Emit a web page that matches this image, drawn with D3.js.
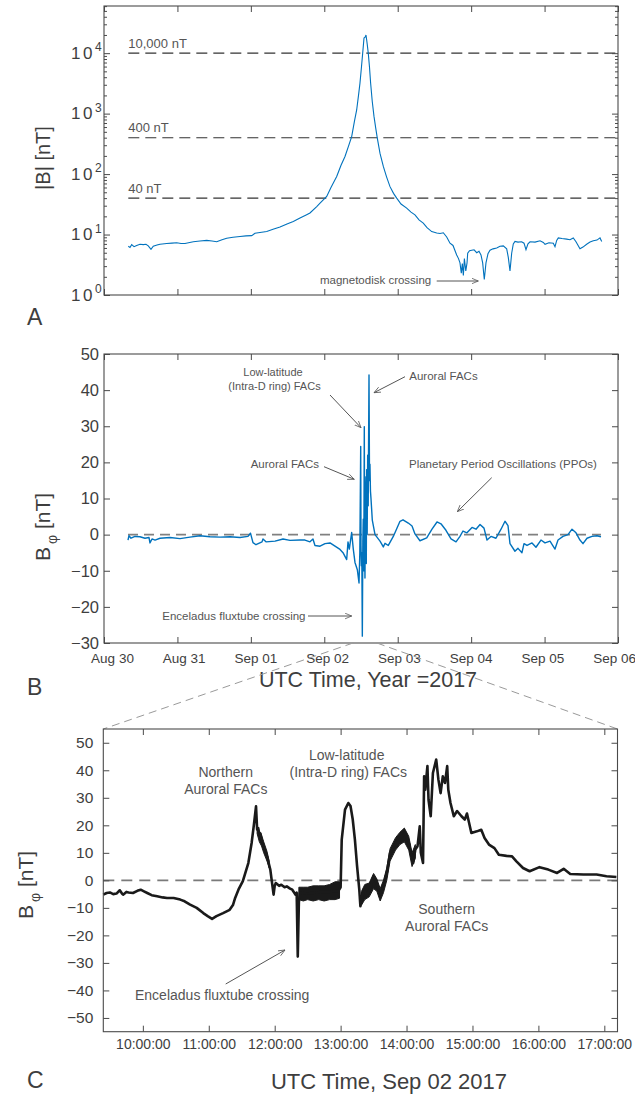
<!DOCTYPE html>
<html><head><meta charset="utf-8">
<script src="https://cdn.jsdelivr.net/npm/d3@7/dist/d3.min.js"></script>
<style>
body{margin:0;background:#fff;}
svg{font-family:"Liberation Sans",Arial,Helvetica,sans-serif;}
</style></head><body>
<svg id="chart" width="635" height="1099"></svg>
<script>
// ---------------- DATA ----------------
// Panel A: |B| vs days since 2017-08-30 00:00 UTC
const aDays = [0.331,0.354,0.377,0.409,0.445,0.490,0.535,0.572,0.603,0.640,0.671,0.722,0.763,0.854,0.926,0.990,1.049,1.103,1.216,1.307,1.399,1.471,1.535,1.607,1.671,1.757,1.852,1.934,2.011,2.029,2.056,2.124,2.216,2.302,2.397,2.492,2.578,2.669,2.760,2.805,2.897,2.942,3.033,3.091,3.169,3.228,3.282,3.330,3.373,3.411,3.441,3.466,3.486,3.507,3.523,3.541,3.558,3.568,3.576,3.585,3.599,3.616,3.631,3.653,3.677,3.700,3.722,3.759,3.804,3.848,3.895,3.943,3.986,4.045,4.122,4.181,4.235,4.290,4.348,4.399,4.463,4.531,4.576,4.621,4.667,4.712,4.753,4.803,4.828,4.848,4.866,4.880,4.894,4.908,4.927,4.944,4.953,4.978,5.008,5.040,5.076,5.107,5.134,5.157,5.179,5.202,5.229,5.257,5.298,5.348,5.393,5.438,5.484,5.506,5.529,5.552,5.574,5.597,5.638,5.688,5.720,5.747,5.774,5.802,5.870,5.938,5.983,6.006,6.060,6.119,6.142,6.165,6.187,6.237,6.301,6.346,6.391,6.428,6.482,6.523,6.573,6.619,6.664,6.714,6.755,6.778];
const aField = [6.4,6.1,6.8,6.3,6.6,6.9,6.8,6.9,6.5,5.7,6.4,6.7,6.9,7.1,7.2,7.3,7.1,7.1,7.6,7.8,8.0,7.8,7.6,8.2,8.7,9.0,9.3,9.5,9.6,9.9,10.5,10.8,11.2,12.2,13.3,15.0,16.5,18.7,21.3,22.7,29,33,42.7,60,91,140,195,290,417,750,1150,2000,3200,6000,10000,17800,18500,20000,17000,14000,10000,5800,3200,1600,900,580,394,220,134,90,62,48,40,32,27.4,23.5,21.2,17.5,15.5,13.0,11.2,10.6,10.4,10.7,9.1,7.2,6.6,4.6,4.0,3.4,2.3,3.3,2.1,4.0,2.5,3.4,4.9,5.4,5.5,5.6,5.0,5.3,4.6,3.4,1.8,3.4,4.8,5.5,5.8,6.0,6.4,6.5,5.8,4.2,2.5,4.9,7.0,7.7,7.5,7.6,7.2,5.6,7.0,7.6,7.5,7.9,7.4,6.9,7.3,7.2,6.3,8.0,8.8,8.6,8.4,8.2,8.8,7.6,5.8,6.2,6.9,7.5,7.9,8.1,8.8,7.7];
const aRefLevels = [10000, 400, 40];
const aRefLabels = ["10,000 nT", "400 nT", "40 nT"];

// Panel B: B_phi vs days since 2017-08-30 00:00 UTC
const bDays = [0.327,0.340,0.368,0.422,0.490,0.558,0.613,0.626,0.654,0.695,0.763,0.899,1.035,1.171,1.307,1.444,1.580,1.716,1.852,1.961,1.995,2.029,2.070,2.152,2.165,2.206,2.329,2.438,2.533,2.669,2.737,2.805,2.846,2.873,2.942,3.010,3.078,3.146,3.214,3.255,3.305,3.323,3.341,3.373,3.395,3.418,3.450,3.473,3.484,3.496,3.500,3.505,3.511,3.518,3.525,3.531,3.538,3.545,3.550,3.554,3.561,3.568,3.572,3.577,3.584,3.591,3.598,3.609,3.616,3.622,3.629,3.636,3.654,3.691,3.759,3.804,3.827,3.872,3.940,4.031,4.072,4.144,4.195,4.235,4.303,4.395,4.467,4.535,4.589,4.657,4.726,4.794,4.848,4.889,4.943,5.012,5.066,5.121,5.175,5.216,5.270,5.338,5.407,5.461,5.502,5.529,5.597,5.638,5.692,5.720,5.761,5.829,5.883,5.951,6.006,6.074,6.142,6.183,6.251,6.319,6.374,6.428,6.482,6.523,6.578,6.646,6.714,6.768];
const bPhi = [-1.5,-0.3,-1.0,-0.5,-0.6,-1.0,-0.8,-2.3,-1.2,-1.5,-1.0,-0.8,-1.1,-0.7,-0.3,-0.6,-0.7,-0.6,-0.8,-0.5,0.4,-2.2,-2.8,-2.0,-1.2,-2.0,-1.8,-1.2,-1.6,-1.5,-1.5,-2.0,-1.2,-3.0,-3.2,-2.5,-2.3,-3.2,-4.1,-5.0,-6.9,-2.0,-4.0,0.6,-4.0,-7.7,-9.7,-13.4,-5,24.4,-3,-8.6,-5,-28.1,-2,4.3,-10,29.9,-5,-12,10,16,-8,18,0,22,8,44.2,15,19.5,12,10,4,0,-1.8,-3.4,-2.4,-3.0,-0.5,3.7,4.1,3.2,2.4,0.2,-1.7,-0.9,1.5,3.5,3.0,1.2,-1.2,-2.0,-0.5,1.0,0.5,2.0,1.5,2.8,1.8,-1.5,-0.5,-1.0,1.5,3.7,2.5,-2.5,-4.6,-3.8,-5.0,-2.5,-3.0,-2.3,-3.5,-1.5,-2.3,-1.8,-4.0,-1.5,-0.5,0.0,1.5,0.5,-1.5,-2.5,-1.0,-0.5,-0.3,-0.6];

// Panel C: B_phi on 2017-09-02 (UTC HH:MM)
const cTime = ["09:24","09:27","09:30","09:33","09:36","09:39","09:41","09:42","09:45","09:47","09:51","09:55","09:58","10:01","10:04","10:08","10:13","10:18","10:22","10:28","10:34","10:38","10:43","10:49","10:55","10:59","11:03","11:07","11:13","11:19","11:22","11:24","11:27","11:31","11:36","11:39","11:41","11:43","11:44","11:45","11:46","11:47","11:48","11:50","11:53","11:56","11:58","11:59","12:00","12:01","12:04","12:06","12:09","12:11","12:14","12:16","12:19","12:20","12:21","12:22","12:23","12:30","12:40","12:50","12:58","13:00","13:01","13:04","13:07","13:09","13:11","13:13","13:15","13:17","13:18","13:21","13:24","13:27","13:30","13:33","13:36","13:39","13:42","13:45","13:50","13:54","13:59","14:02","14:06","14:08","14:10","14:12","14:13","14:15","14:16","14:17","14:19","14:20","14:22","14:24","14:27","14:29","14:31","14:33","14:35","14:37","14:38","14:40","14:43","14:46","14:50","14:53","14:55","14:59","15:04","15:08","15:11","15:15","15:20","15:24","15:31","15:36","15:40","15:46","15:52","16:01","16:09","16:17","16:23","16:29","16:41","16:53","17:02","17:11"];
const cPhi = [-5.2,-4.6,-4.4,-5.0,-4.8,-3.6,-4.8,-5.2,-4.2,-4.4,-4.6,-3.8,-3.4,-4.0,-4.6,-5.4,-5.8,-6.2,-6.4,-6.4,-7.0,-7.6,-8.8,-10.0,-11.9,-13.0,-14.0,-13.0,-11.9,-10.7,-9.0,-6.4,-3.4,-0.3,6.3,13.6,20.0,26.9,18.5,19,16.0,17,14.8,12.0,8.7,3.9,-2.2,-5.2,-2.0,-1.0,-2.0,-1.6,-2.5,-2.2,-3.0,-3.4,-5.2,-4.5,-27.7,-8,-4.5,-4.8,-4.3,-4.2,-3.8,-2.5,14.8,25.7,28.1,27.0,22.2,14.8,5.1,-3.4,-9.4,-3.4,-5.5,-2.7,1.5,-1.0,-5.8,-2.2,2.7,10.0,13.6,15.4,17.2,13.6,6.3,11.2,12.4,19.6,10.0,6.3,37.8,32.9,41.5,29.3,23.3,39.0,43.9,36.6,31.7,37.8,35.4,41.5,32.9,28.1,23.3,25.2,23.3,22.1,24.3,17.2,17.8,18.4,15.4,13.0,11.7,9.3,8.9,8.7,6.9,4.5,3.3,4.8,3.9,2.7,4.2,2.3,2.1,2.1,1.5,1.2];
// Panel C: envelope of the high-frequency noise band (null = gap)
const cBandTime = ["11:44","11:46","11:48","11:50","11:53","11:55","11:56","12:22","12:26","12:30","12:35","12:40","12:45","12:50","12:55","12:59","13:00","13:19","13:22","13:26","13:30","13:33","13:36","13:39","13:42","13:45","13:50","13:54","13:58","14:02","14:05","14:08"];
const cBandLo = [17,14,12.5,10,7,4.5,null,-7,-7.5,-7,-7.5,-7,-7.5,-7,-7,-6.5,null,-9,-7,-6,-3,-4,-7.5,-4.5,0,7,11,13,14,11,5,8];
const cBandHi = [20,18,16.5,14,10.5,7,null,-2.5,-2.5,-2.5,-2,-2,-2,-1.5,-0.5,-0.5,null,-4,-1.5,-1,2.5,0.5,-3,0,4.5,11.5,15.5,17.5,19,16,10,13];

// ---------------- SETUP ----------------
const svg = d3.select("#chart");
const axisColor = "#4a4a4a", textColor = "#3e3e3e", noteColor = "#555";
const blue = "#0072BD";
const pA = {l:104, r:618, t:6, b:295};
const pB = {l:104, r:618, t:354, b:643};
const pC = {l:103.3, r:617.5, t:729, b:1031.7};

const t0 = Date.UTC(2017,7,30), t1 = Date.UTC(2017,8,6);
const toDate = d => new Date(t0 + d*864e5);
const parseC = d3.utcParse("%Y-%m-%d %H:%M");
const cDate = s => parseC("2017-09-02 " + s);

const xAB = d3.scaleUtc().domain([new Date(t0), new Date(t1)]).range([pA.l, pA.r]);
const yA = d3.scaleLog().domain([1, Math.pow(10,4.78)]).range([pA.b, pA.t]);
const yB = d3.scaleLinear().domain([-30,50]).range([pB.b, pB.t]);
const xC = d3.scaleUtc().domain([cDate("09:24"), cDate("17:12")]).range([pC.l, pC.r]);
const yC = d3.scaleLinear().domain([-55,55]).range([pC.b, pC.t]);

const defs = svg.append("defs");
defs.append("marker").attr("id","arr").attr("viewBox","0 0 10 10").attr("refX",9.5).attr("refY",5)
  .attr("markerWidth",7).attr("markerHeight",7).attr("markerUnits","userSpaceOnUse").attr("orient","auto")
  .append("path").attr("d","M0,1 L9.5,5 L0,9").attr("fill","none").attr("stroke",noteColor).attr("stroke-width",1.1);

function styleAxis(g, fs){
  g.select(".domain").remove();
  g.selectAll(".tick line").attr("stroke",axisColor).attr("stroke-width",1);
  g.selectAll(".tick text").attr("fill",textColor).attr("font-size",fs)
   .attr("font-family","'Liberation Sans',Arial,Helvetica,sans-serif");
}
function frame(p){
  svg.append("rect").attr("x",p.l).attr("y",p.t).attr("width",p.r-p.l).attr("height",p.b-p.t)
    .attr("fill","none").attr("stroke",axisColor).attr("stroke-width",1.1);
}
function note(x,y,txt,fs,anchor){
  svg.append("text").attr("x",x).attr("y",y).attr("font-size",fs).attr("fill",noteColor)
    .attr("text-anchor",anchor||"start").text(txt);
}
function arrow(x1,y1,x2,y2){
  svg.append("line").attr("x1",x1).attr("y1",y1).attr("x2",x2).attr("y2",y2)
    .attr("stroke",noteColor).attr("stroke-width",1).attr("marker-end","url(#arr)");
}
const dayTicks = d3.utcDay.range(new Date(t0), new Date(t1+1));
const hourTicks = d3.utcHour.range(cDate("10:00"), cDate("17:01"));

// ---------------- PANEL A ----------------
const aRefStart = xAB(toDate(aDays[0]));
aRefLevels.forEach((lv,i)=>{
  svg.append("line").attr("x1",aRefStart).attr("x2",pA.r).attr("y1",yA(lv)).attr("y2",yA(lv))
    .attr("stroke","#333").attr("stroke-width",1.1).attr("stroke-dasharray","11,6");
  note(aRefStart, yA(lv)-5.5, aRefLabels[i], 13);
});
svg.append("path").datum(aDays.map((d,i)=>[toDate(d), aField[i]]))
  .attr("fill","none").attr("stroke",blue).attr("stroke-width",1.1)
  .attr("d", d3.line().x(d=>xAB(d[0])).y(d=>yA(d[1])));
// axes A
const majA = [1,10,100,1000,10000];
const minA = [];
for(let k=0;k<5;k++) for(let m=2;m<=9;m++){ const v=m*Math.pow(10,k); if(v<=Math.pow(10,4.78)) minA.push(v); }
svg.append("g").attr("transform",`translate(${pA.l},0)`).call(d3.axisLeft(yA).tickValues(majA).tickSize(-6).tickFormat("")).call(g=>styleAxis(g,12));
svg.append("g").attr("transform",`translate(${pA.l},0)`).call(d3.axisLeft(yA).tickValues(minA).tickSize(-3).tickFormat("")).call(g=>styleAxis(g,12));
svg.append("g").attr("transform",`translate(${pA.r},0)`).call(d3.axisRight(yA).tickValues(majA).tickSize(-6).tickFormat("")).call(g=>styleAxis(g,12));
svg.append("g").attr("transform",`translate(${pA.r},0)`).call(d3.axisRight(yA).tickValues(minA).tickSize(-3).tickFormat("")).call(g=>styleAxis(g,12));
svg.append("g").attr("transform",`translate(0,${pA.b})`).call(d3.axisBottom(xAB).tickValues(dayTicks).tickSize(-6).tickFormat("")).call(g=>styleAxis(g,12));
svg.append("g").attr("transform",`translate(0,${pA.t})`).call(d3.axisTop(xAB).tickValues(dayTicks).tickSize(-6).tickFormat("")).call(g=>styleAxis(g,12));
majA.forEach((v,k)=>{
  const t = svg.append("text").attr("x",71).attr("y",yA(v)+5.5).attr("fill",textColor);
  t.append("tspan").attr("font-size",17).attr("letter-spacing",2.5).text("10");
  t.append("tspan").attr("font-size",12).attr("dy",-7.5).text(k);
});
frame(pA);
svg.append("text").attr("transform",`translate(50,158) rotate(-90)`).attr("text-anchor","middle")
  .attr("font-size",20).attr("fill",textColor).text("|B| [nT]");
svg.append("text").attr("x",27).attr("y",325).attr("font-size",23).attr("fill",textColor).text("A");
note(320, 284, "magnetodisk crossing", 11.5);
arrow(436.7,281,478.3,281);

// ---------------- PANEL B ----------------
svg.append("line").attr("x1",xAB(toDate(bDays[0]))).attr("x2",xAB(toDate(bDays[bDays.length-1])))
  .attr("y1",yB(0)).attr("y2",yB(0)).attr("stroke","#808080").attr("stroke-width",1.8).attr("stroke-dasharray","10,6");
svg.append("path").datum(bDays.map((d,i)=>[toDate(d), bPhi[i]]))
  .attr("fill","none").attr("stroke",blue).attr("stroke-width",1.4).attr("stroke-linejoin","round")
  .attr("d", d3.line().x(d=>xAB(d[0])).y(d=>yB(d[1])));
const bYt = d3.range(-30,51,10);
svg.append("g").attr("transform",`translate(${pB.l},0)`).call(d3.axisLeft(yB).tickValues(bYt).tickSize(-6).tickPadding(5)).call(g=>styleAxis(g,16.5));
svg.append("g").attr("transform",`translate(${pB.r},0)`).call(d3.axisRight(yB).tickValues(bYt).tickSize(-6).tickFormat("")).call(g=>styleAxis(g,12));
svg.append("g").attr("transform",`translate(0,${pB.b})`).call(d3.axisBottom(xAB).tickValues(dayTicks).tickSize(-6).tickPadding(10).tickFormat(d3.utcFormat("%b %d")))
  .call(g=>styleAxis(g,13.5))
  .call(g=>g.selectAll(".tick text").attr("dx",(d,i)=>8-1.7*i));
svg.append("g").attr("transform",`translate(0,${pB.t})`).call(d3.axisTop(xAB).tickValues(dayTicks).tickSize(-6).tickFormat("")).call(g=>styleAxis(g,12));
frame(pB);
svg.append("text").attr("x",368).attr("y",687).attr("text-anchor","middle").attr("font-size",21.5).attr("fill",textColor).text("UTC Time, Year =2017");
{
  const t = svg.append("text").attr("transform",`translate(50,527) rotate(-90)`).attr("text-anchor","middle").attr("font-size",21).attr("fill",textColor);
  t.append("tspan").text("B");
  t.append("tspan").attr("font-size",14).attr("dx",3).attr("dy",7).text("φ");
  t.append("tspan").attr("dy",-7).text(" [nT]");
}
svg.append("text").attr("x",27).attr("y",695).attr("font-size",23).attr("fill",textColor).text("B");
note(273,376,"Low-latitude",11,"middle");
note(274.5,390,"(Intra-D ring) FACs",11,"middle");
arrow(330,395,361,427.7);
note(409.3,380,"Auroral FACs",11.5);
arrow(405,376.7,374,392.7);
note(250.7,467.5,"Auroral FACs",11.5);
arrow(324,466.7,354.3,479.3);
note(409,468,"Planetary Period Oscillations (PPOs)",11.5);
arrow(491.7,477.7,457.3,511.7);
note(162.3,619.5,"Enceladus fluxtube crossing",11.5);
arrow(308,616,351.7,616);

// zoom connectors
svg.append("line").attr("x1",xAB(xC.domain()[0])).attr("y1",pB.b).attr("x2",pC.l).attr("y2",pC.t)
  .attr("stroke","#9a9a9a").attr("stroke-width",1).attr("stroke-dasharray","8,5");
svg.append("line").attr("x1",xAB(xC.domain()[1])).attr("y1",pB.b).attr("x2",pC.r).attr("y2",pC.t)
  .attr("stroke","#9a9a9a").attr("stroke-width",1).attr("stroke-dasharray","8,5");

// ---------------- PANEL C ----------------
svg.append("line").attr("x1",pC.l).attr("x2",pC.r).attr("y1",yC(0)).attr("y2",yC(0))
  .attr("stroke","#7a7a7a").attr("stroke-width",1.6).attr("stroke-dasharray","11,7");
svg.append("path").datum(cBandTime.map((t,i)=>[cDate(t), cBandLo[i], cBandHi[i]]))
  .attr("fill","#1a1a1a").attr("stroke","#1a1a1a").attr("stroke-width",1)
  .attr("d", d3.area().defined(d=>d[1]!==null).x(d=>xC(d[0])).y0(d=>yC(d[1])).y1(d=>yC(d[2])));
svg.append("path").datum(cTime.map((t,i)=>[cDate(t), cPhi[i]]))
  .attr("fill","none").attr("stroke","#1a1a1a").attr("stroke-width",2.6).attr("stroke-linejoin","round")
  .attr("d", d3.line().x(d=>xC(d[0])).y(d=>yC(d[1])));
const cYt = d3.range(-50,51,10);
svg.append("g").attr("transform",`translate(${pC.l},0)`).call(d3.axisLeft(yC).tickValues(cYt).tickSize(-6).tickPadding(10)).call(g=>styleAxis(g,15.5));
svg.append("g").attr("transform",`translate(${pC.r},0)`).call(d3.axisRight(yC).tickValues(cYt).tickSize(-6).tickFormat("")).call(g=>styleAxis(g,12));
svg.append("g").attr("transform",`translate(0,${pC.b})`).call(d3.axisBottom(xC).tickValues(hourTicks).tickSize(-6).tickPadding(7).tickFormat(d3.utcFormat("%H:%M:%S"))).call(g=>styleAxis(g,14));
svg.append("g").attr("transform",`translate(0,${pC.t})`).call(d3.axisTop(xC).tickValues(hourTicks).tickSize(-6).tickFormat("")).call(g=>styleAxis(g,12));
frame(pC);
svg.append("text").attr("x",389).attr("y",1089).attr("text-anchor","middle").attr("font-size",22).attr("fill",textColor).text("UTC Time, Sep 02 2017");
{
  const t = svg.append("text").attr("transform",`translate(33,885) rotate(-90)`).attr("text-anchor","middle").attr("font-size",21).attr("fill",textColor);
  t.append("tspan").text("B");
  t.append("tspan").attr("font-size",14).attr("dx",3).attr("dy",7).text("φ");
  t.append("tspan").attr("dy",-7).text(" [nT]");
}
svg.append("text").attr("x",27).attr("y",1088).attr("font-size",23).attr("fill",textColor).text("C");
note(225.7,777,"Northern",14,"middle");
note(225.8,794,"Auroral FACs",14,"middle");
note(346.7,759.5,"Low-latitude",14,"middle");
note(348.3,777,"(Intra-D ring) FACs",14,"middle");
note(446.7,914,"Southern",14,"middle");
note(446.7,931,"Auroral FACs",14,"middle");
note(135,1000,"Enceladus fluxtube crossing",14);
arrow(225.7,984,285,950);
</script>
</body></html>
